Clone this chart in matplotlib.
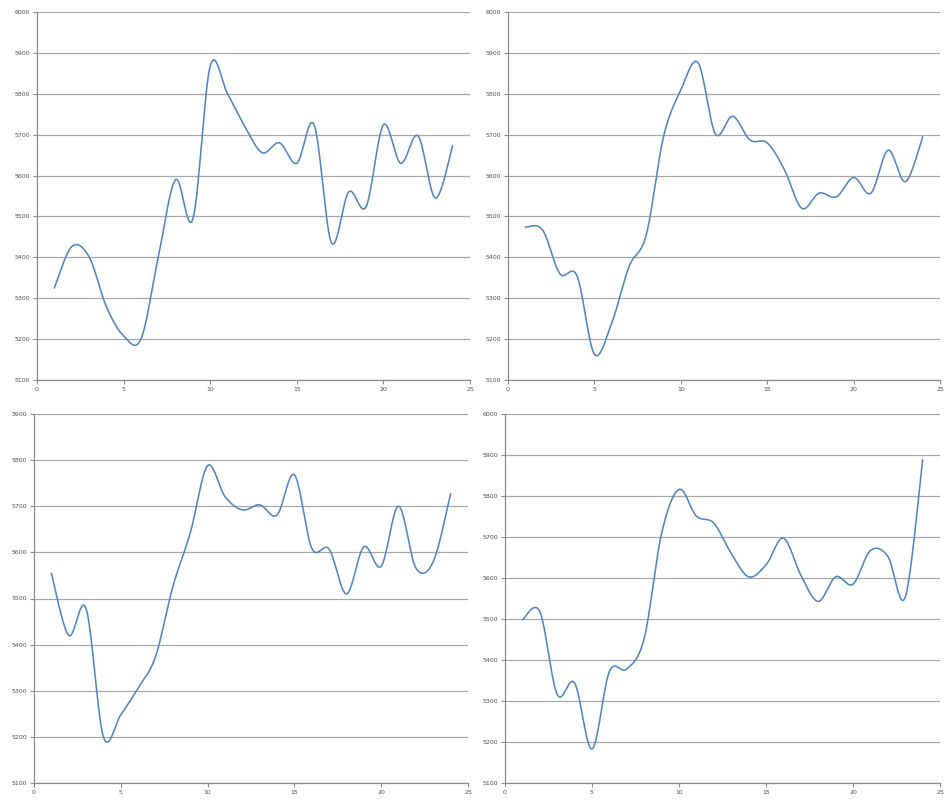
import numpy as np
import matplotlib
matplotlib.use("Agg")
import matplotlib.pyplot as plt

x = list(range(1, 25))

series_a = [5325, 5426, 5402, 5280, 5208, 5200, 5400, 5590, 5494, 5868,
            5800, 5720, 5656, 5680, 5630, 5724, 5436, 5560, 5524, 5724,
            5630, 5697, 5545, 5673]
series_b = [5474, 5467, 5360, 5354, 5163, 5239, 5377, 5455, 5695, 5809,
            5876, 5702, 5745, 5687, 5680, 5614, 5520, 5557, 5548, 5595,
            5557, 5662, 5585, 5695]
series_c = [5555, 5420, 5478, 5200, 5248, 5306, 5374, 5526, 5642, 5788,
            5721, 5692, 5703, 5681, 5768, 5609, 5607, 5510, 5612, 5570,
            5700, 5566, 5580, 5727]
series_d = [5498, 5518, 5316, 5344, 5183, 5372, 5378, 5453, 5709, 5816,
            5751, 5734, 5660, 5603, 5632, 5697, 5607, 5543, 5603, 5585,
            5667, 5653, 5553, 5888]

y_ranges = [(5100, 6000), (5100, 6000), (5100, 5900), (5100, 6000)]
x_ticks = [0, 5, 10, 15, 20, 25]

# panel boxes in pixels: left, right, top, bottom
boxes = [(37, 470, 12, 380), (508, 940, 12, 380),
         (34, 468, 414, 783), (505, 940, 414, 783)]

W, H = 945, 801
LINE = "#5286c2"


def smooth(xs, ys, n=30):
    """Bezier smoothing through every point (tension 1/6 control points)."""
    p = np.column_stack([xs, ys]).astype(float)
    ext = np.vstack([p[0], p, p[-1]])
    out = []
    t = np.linspace(0, 1, n)[:, None]
    for i in range(len(p) - 1):
        p0, p1, p2, p3 = ext[i], ext[i + 1], ext[i + 2], ext[i + 3]
        c1 = p1 + (p2 - p0) / 6.0
        c2 = p2 - (p3 - p1) / 6.0
        seg = ((1 - t) ** 3) * p1 + 3 * ((1 - t) ** 2) * t * c1 \
            + 3 * (1 - t) * t ** 2 * c2 + t ** 3 * p2
        out.append(seg if i == 0 else seg[1:])
    out = np.vstack(out)
    return out[:, 0], out[:, 1]


fig = plt.figure(figsize=(W / 100, H / 100), dpi=100)
fig.patch.set_facecolor("white")

for data, (lo, hi), (l, r, t, b) in zip(
        [series_a, series_b, series_c, series_d], y_ranges, boxes):
    ax = fig.add_axes([l / W, (H - b) / H, (r - l) / W, (b - t) / H])
    sx, sy = smooth(x, data)
    ax.plot(sx, sy, color=LINE, lw=1.15, solid_capstyle="round", zorder=3)
    ax.set_xlim(0, 25)
    ax.set_ylim(lo, hi)
    ax.set_xticks(x_ticks)
    ax.set_yticks(np.arange(lo, hi + 1, 100))
    ax.grid(axis="y", color="#a8a8a8", lw=0.9)
    ax.set_axisbelow(True)
    for side in ("top", "right"):
        ax.spines[side].set_visible(False)
    for side in ("left", "bottom"):
        ax.spines[side].set_color("#8c8c8c")
        ax.spines[side].set_linewidth(0.9)
    ax.tick_params(axis="both", direction="out", length=3, width=0.8,
                   color="#8c8c8c", labelsize=4.5, labelcolor="#505050",
                   pad=2)

fig.savefig("out.png", dpi=100, facecolor="white")
